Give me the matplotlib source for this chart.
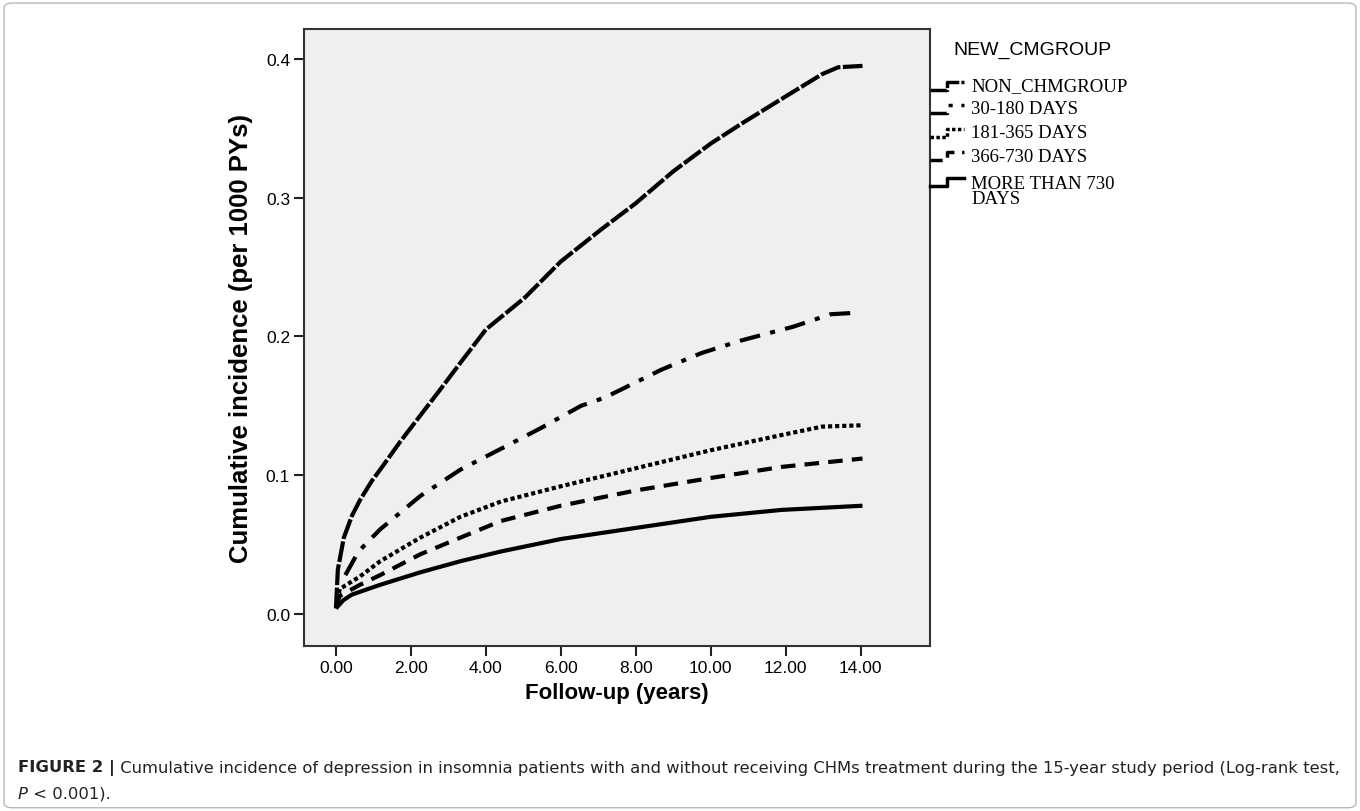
import matplotlib.pyplot as plt
from matplotlib.patches import FancyBboxPatch
from matplotlib import font_manager

# Follow-up points (years) and cumulative incidence
non_x = [0.0, 0.05, 0.21, 0.43, 0.64, 0.96, 1.18, 1.71, 2.25, 2.79, 3.32, 4.0, 5.04, 6.0, 7.07, 8.0, 9.0, 10.0, 10.8, 12.0, 12.97, 13.4, 14.05]
non_y = [0.004, 0.032, 0.055, 0.071, 0.082, 0.096, 0.104, 0.124, 0.143, 0.162, 0.181, 0.205, 0.228, 0.254, 0.277, 0.296, 0.319, 0.339, 0.353, 0.373, 0.389, 0.394, 0.395]

d30_x = [0.25, 0.6, 1.18, 2.25, 3.32, 4.4, 5.47, 6.54, 7.18, 8.68, 9.75, 10.8, 12.2, 13.2, 13.85]
d30_y = [0.028, 0.045, 0.061, 0.085, 0.104, 0.119, 0.134, 0.150, 0.156, 0.176, 0.188, 0.197, 0.207, 0.216, 0.217]

d181_x = [0.0, 0.1, 0.64, 1.18, 2.25, 3.32, 4.4, 6.0, 8.0, 10.0, 11.9, 12.97, 14.05]
d181_y = [0.005, 0.018, 0.027, 0.038, 0.055, 0.070, 0.081, 0.092, 0.105, 0.118, 0.129, 0.135, 0.136]

d366_x = [0.0, 0.1, 0.64, 1.18, 2.25, 3.32, 4.4, 6.0, 8.0, 10.0, 11.9, 14.05]
d366_y = [0.005, 0.013, 0.021, 0.028, 0.043, 0.055, 0.067, 0.078, 0.089, 0.098, 0.106, 0.112]

d730_x = [0.0, 0.2, 0.43, 1.18, 2.25, 3.32, 4.4, 6.0, 8.0, 10.0, 11.9, 14.05]
d730_y = [0.004, 0.010, 0.014, 0.021, 0.030, 0.038, 0.045, 0.054, 0.062, 0.070, 0.075, 0.078]

groups = ['NON_CHMGROUP', '30-180 DAYS', '181-365 DAYS', '366-730 DAYS', 'MORE THAN 730\nDAYS']
xticks = [0, 2, 4, 6, 8, 10, 12, 14]
yticks = [0.0, 0.1, 0.2, 0.3, 0.4]

styles = [(0, (5, 0.6)), (0, (5, 2.5, 1.2, 2.5)), (0, (1.0, 0.7)), (0, (3.5, 2.2)), '-']

# pick a narrow face for the caption if one is installed
narrow = 'Liberation Sans'
for f in font_manager.fontManager.ttflist:
    if 'Narrow' in f.name or 'Condensed' in f.name or f.stretch in ('condensed', 'semi-condensed', 600, 700):
        narrow = f.name
        break

fig = plt.figure(figsize=(13.6, 8.12), dpi=100)

# outer frame of the figure panel
fig.patches.append(FancyBboxPatch((0.003, 0.004), 0.994, 0.991, boxstyle='round,pad=0,rounding_size=0.006',
                                  transform=fig.transFigure, fill=False, ec='#b8b8b8', lw=1.0))

ax = fig.add_axes([0.2235, 0.2032, 0.4603, 0.7599])
ax.set_facecolor('#efefef')

series = [(non_x, non_y), (d30_x, d30_y), (d181_x, d181_y), (d366_x, d366_y), (d730_x, d730_y)]
for (xs, ys), ls in zip(series, styles):
    ax.plot(xs, ys, color='black', lw=3.0, linestyle=ls, solid_capstyle='butt', dash_capstyle='butt',
            solid_joinstyle='round')

ax.set_xlim(-0.854, 15.85)
ax.set_ylim(-0.0231, 0.4216)
ax.set_xticks(xticks)
ax.set_xticklabels(['%.2f' % v for v in xticks], fontsize=12.5, family='Liberation Sans')
ax.set_yticks(yticks)
ax.set_yticklabels(['%.1f' % v for v in yticks], fontsize=12.5, family='Liberation Sans')
ax.tick_params(direction='out', length=7, width=1.5, color='#222222', pad=3)
for s in ax.spines.values():
    s.set_color('#333333')
    s.set_linewidth(1.5)

ax.set_xlabel('Follow-up (years)', fontsize=16, fontweight='bold', family='Liberation Sans', labelpad=5)
ax.set_ylabel('Cumulative incidence (per 1000 PYs)', fontsize=18.5, fontweight='bold', family='Liberation Sans',
              labelpad=9)

# legend drawn in SPSS style at the right of the plot
fig.text(953 / 1360, 1 - 50 / 812, 'NEW_CMGROUP', fontsize=14, family='Liberation Sans', va='center', ha='left')
leg_y = [87, 110, 134, 157, 183]
for name, ls, yy in zip(groups, styles, leg_y):
    yf = 1 - yy / 812
    lo = yf - 4 / 812
    hi = yf + 4 / 812
    fig.add_artist(plt.Line2D([930 / 1360, 947 / 1360, 947 / 1360, 964 / 1360], [lo, lo, hi, hi],
                              transform=fig.transFigure, color='black', lw=2.5, linestyle=ls))
    fig.text(971 / 1360, yf if '\n' not in name else yf - 9 / 812, name, fontsize=13.5,
             family='Liberation Serif', va='center', ha='left', linespacing=0.9)

# caption
cap_size = 14
t1 = fig.text(18 / 1360, 1 - 772 / 812, 'FIGURE 2 |', fontsize=cap_size, fontweight='bold', family=narrow,
              va='baseline', ha='left', color='#222222')
a1 = ax.annotate(' Cumulative incidence of depression in insomnia patients with and without receiving CHMs '
                 'treatment during the 15-year study period (Log-rank test,',
                 xy=(1, 0), xycoords=t1, va='bottom', ha='left', fontsize=cap_size, family=narrow,
                 color='#222222', annotation_clip=False)
t2 = fig.text(18 / 1360, 1 - 799 / 812, 'P', fontsize=cap_size, style='italic', family=narrow, va='baseline',
              ha='left', color='#222222')
a2 = ax.annotate(' < 0.001).', xy=(1, 0), xycoords=t2, va='bottom', ha='left', fontsize=cap_size, family=narrow,
                 color='#222222', annotation_clip=False)

# shrink the caption so the first line spans the panel like the original
fig.canvas.draw()
r = fig.canvas.get_renderer()
w = a1.get_window_extent(r).x1 - t1.get_window_extent(r).x0
scale = min(1.0, 1322 / w)
for t in (t1, a1, t2, a2):
    t.set_fontsize(cap_size * scale)

plt.savefig('out.png', dpi=100)
